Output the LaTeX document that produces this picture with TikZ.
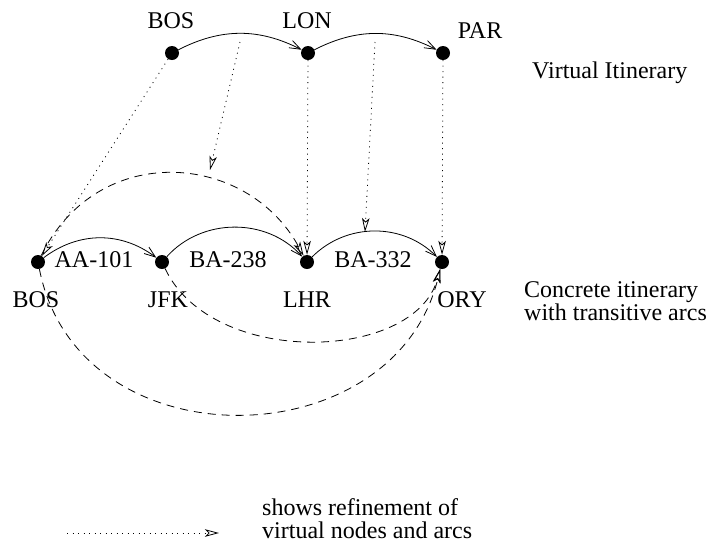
\documentclass[tikz,border=0pt]{standalone}
\usepackage{fontspec}
\setmainfont{Liberation Serif}
\usetikzlibrary{arrows.meta}

\tikzset{
  dot/.style={circle, fill=black, inner sep=0pt, minimum size=14pt},
  lbl/.style={anchor=base, inner sep=0pt},
  note/.style={anchor=north west, inner sep=0pt, align=left},
  flight/.style={-{Straight Barb[length=11pt, width=8pt]}, line width=0.8pt},
  transitive/.style={-{Stealth[open, length=14pt, width=7.5pt, inset=3.5pt]}, line width=0.8pt, dash pattern=on 8pt off 6pt},
  refine/.style={-{Stealth[open, length=14pt, width=7.5pt, inset=3.5pt]}, line width=0.8pt, dash pattern=on 1pt off 4.5pt},
}

\begin{document}
\begin{tikzpicture}[x=1pt, y=-1pt, font=\fontsize{24}{22.5}\selectfont]
  \useasboundingbox (0,0) rectangle (710,550);
  % Virtual itinerary
  \foreach \name/\x in {BOS/172, LON/308, PAR/443}
    \node[dot] (v\name) at (\x,53) {};
  \foreach \name/\x/\y in {BOS/171/28, LON/307/28, PAR/480/38}
    \node[lbl] (v\name-lbl) at (\x,\y) {\name};
  \draw[flight] (vBOS) to[bend left=27] (vLON);
  \draw[flight] (vLON) to[bend left=27] (vPAR);
  \node[anchor=base west, inner sep=0pt] (virtualText) at (532,78) {Virtual Itinerary};
  % Concrete itinerary
  \foreach \name/\x in {BOS/36, JFK/168, LHR/307, ORY/462}
    \node[lbl] (c\name-lbl) at (\x,307) {\name};
  \foreach \name/\x in {BOS/38, JFK/162, LHR/307, ORY/442}
    \node[dot] (c\name) at (\x,262) {};
  \foreach \flight/\x [count=\i] in {AA-101/94, BA-238/228, BA-332/373}
    \node[lbl] (flight\i) at (\x,267) {\flight};
  \draw[flight] (cBOS) to[bend left=37] (cJFK);
  \draw[flight] (cJFK) to[bend left=48] (cLHR);
  \draw[flight] (cLHR) to[bend left=45] (cORY);
  \node[note] (concreteText) at (524,281.6) {Concrete itinerary\\with transitive arcs};
  % Transitive arcs
  \draw[transitive] (cBOS) .. controls +(60,-122) and +(-60,-110) .. (cLHR);
  \draw[transitive] (cJFK) .. controls +(50,106) and +(-27,100) .. (cORY);
  \draw[transitive] (cBOS) .. controls +(40,203) and +(-49,198) .. (cORY);
  % Refinement
  \coordinate (vArcBL) at (240,42);
  \coordinate (cArcBL) at (210,170);
  \coordinate (vArcLP) at (375,42);
  \coordinate (cArcLP) at (365,232);
  \draw[refine] (vBOS) -- (cBOS);
  \draw[refine] (vArcBL) -- (cArcBL);
  \draw[refine] (vLON) -- (cLHR);
  \draw[refine] (vArcLP) -- (cArcLP);
  \draw[refine] (vPAR) -- (cORY);
  % Key
  \coordinate (keyStart) at (67,533);
  \coordinate (keyEnd) at (219,533);
  \draw[refine] (keyStart) -- (keyEnd);
  \node[note] (keyText) at (262,498.6) {shows refinement of\\virtual nodes and arcs};
\end{tikzpicture}
\end{document}
